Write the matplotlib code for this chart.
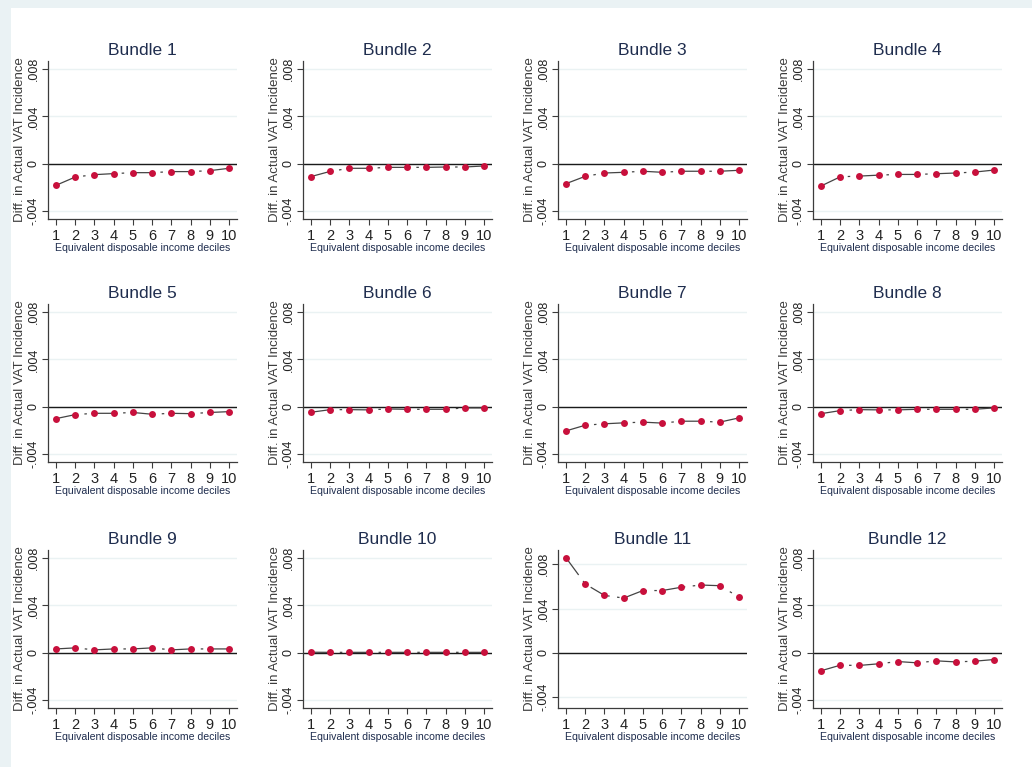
import matplotlib
matplotlib.use('Agg')
from matplotlib import pyplot as plt
from matplotlib.patches import Rectangle

plt.rcParams['font.family'] = ['Liberation Sans', 'DejaVu Sans']

deciles = [1, 2, 3, 4, 5, 6, 7, 8, 9, 10]
y_ticks = [-0.004, 0, 0.004, 0.008]
y_tick_labels = ['-.004', '0', '.004', '.008']

# 每个组合的十分位差值
bundle_1 = [-0.00184, -0.00114, -0.00094, -0.00085, -0.00077, -0.00077, -0.00068, -0.00068, -0.00060, -0.00040]
bundle_2 = [-0.00110, -0.00066, -0.00040, -0.00040, -0.00032, -0.00032, -0.00032, -0.00029, -0.00029, -0.00020]
bundle_3 = [-0.00170, -0.00108, -0.00080, -0.00074, -0.00065, -0.00074, -0.00065, -0.00065, -0.00065, -0.00057]
bundle_4 = [-0.00190, -0.00112, -0.00106, -0.00098, -0.00092, -0.00092, -0.00086, -0.00080, -0.00072, -0.00055]
bundle_5 = [-0.00102, -0.00068, -0.00057, -0.00057, -0.00050, -0.00065, -0.00057, -0.00060, -0.00050, -0.00043]
bundle_6 = [-0.00048, -0.00026, -0.00026, -0.00028, -0.00020, -0.00023, -0.00023, -0.00023, -0.00011, -0.00011]
bundle_7 = [-0.00206, -0.00158, -0.00146, -0.00138, -0.00132, -0.00140, -0.00124, -0.00124, -0.00132, -0.00096]
bundle_8 = [-0.00060, -0.00034, -0.00026, -0.00028, -0.00028, -0.00023, -0.00023, -0.00023, -0.00023, -0.00011]
bundle_9 = [0.00031, 0.00040, 0.00023, 0.00031, 0.00031, 0.00040, 0.00023, 0.00031, 0.00031, 0.00031]
bundle_10 = [0.00003, 0.00002, 0.00002, 0.00002, 0.00002, 0.00002, 0.00002, 0.00002, 0.00002, 0.00002]
bundle_11 = [0.00859, 0.00622, 0.00519, 0.00495, 0.00563, 0.00563, 0.00593, 0.00613, 0.00607, 0.00504]
bundle_12 = [-0.00154, -0.00107, -0.00109, -0.00095, -0.00076, -0.00087, -0.00070, -0.00079, -0.00073, -0.00059]
bundles = [bundle_1, bundle_2, bundle_3, bundle_4, bundle_5, bundle_6,
           bundle_7, bundle_8, bundle_9, bundle_10, bundle_11, bundle_12]
titles = ['Bundle %d' % (i + 1) for i in range(12)]

W, H = 1032, 767
fig = plt.figure(figsize=(W / 100, H / 100), dpi=100)
fig.patch.set_facecolor('#eaf2f4')
fig.patches.append(Rectangle((11 / W, 0), 1 - 11 / W, 1 - 8 / H, transform=fig.transFigure,
                             facecolor='white', edgecolor='none', zorder=-10))

col_left = [48, 303, 558, 813]
row_top = [61, 304, 550]
ax_w, ax_h = 189, 158

navy = '#1f2d4e'
grey = '#3c3c3c'

for k, vals in enumerate(bundles):
    r, c = divmod(k, 4)
    ax = fig.add_axes([col_left[c] / W, 1 - (row_top[r] + ax_h) / H, ax_w / W, ax_h / H])
    ax.set_facecolor('none')
    for t in y_ticks:
        ax.axhline(t, color='#eaf2f3', lw=1, zorder=0)
    ax.axhline(0, color='#1a1a1a', lw=1, zorder=1)
    ax.plot(deciles, vals, color='#444444', lw=0.9, linestyle=(0, (17, 6, 2, 6)), zorder=2)
    ax.plot(deciles, vals, 'o', color='#c8103c', markersize=5, markeredgewidth=0, zorder=3)
    ax.set_xlim(0.58, 10.42)
    if k == 10:
        ax.set_ylim(-0.0050, 0.0093)
    else:
        ax.set_ylim(-0.0047, 0.0087)
    ax.set_xticks(deciles)
    ax.set_xticklabels([str(d) for d in deciles], fontsize=10.5, color='#222222')
    ax.set_yticks(y_ticks)
    ax.set_yticklabels(y_tick_labels, rotation=90, va='center', fontsize=9, color='#222222')
    for side in ['top', 'right']:
        ax.spines[side].set_visible(False)
    for side in ['left', 'bottom']:
        ax.spines[side].set_color(grey)
        ax.spines[side].set_linewidth(0.9)
    ax.tick_params(axis='y', direction='out', length=4, width=0.8, color=grey, pad=2)
    ax.tick_params(axis='x', direction='out', length=4, width=0.8, color=grey, pad=3)
    ax.set_title(titles[k], fontsize=12.5, color=navy, pad=4.5)
    ax.set_xlabel('Equivalent disposable income deciles', fontsize=7.6, color=navy, labelpad=0)
    ax.set_ylabel('Diff. in Actual VAT Incidence', fontsize=9.5, color=grey, labelpad=1)

fig.savefig('out.png', dpi=100, facecolor=fig.get_facecolor())
